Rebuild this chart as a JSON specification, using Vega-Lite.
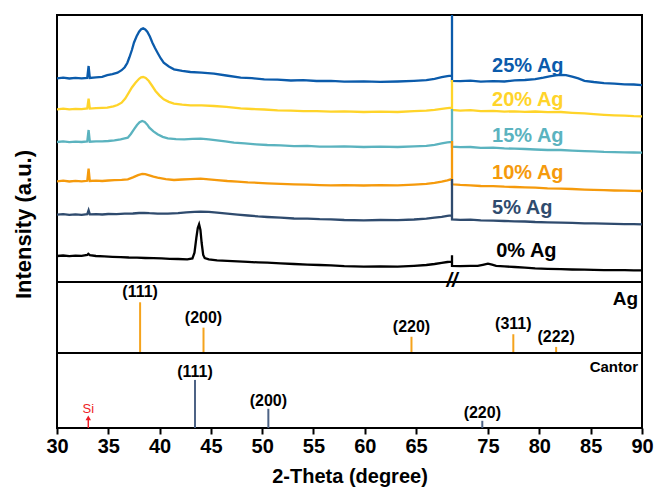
{
"$schema": "https://vega.github.io/schema/vega-lite/v6.json",
"padding": {"left": 11, "top": 14, "right": 5, "bottom": 2},
"background": "white",
"spacing": 0,
"bounds": "flush",
"config": {"view": {"stroke": "black", "strokeWidth": 2}, "font": "Liberation Sans", "concat": {"spacing": 0}},
"datasets": {
"xrd": [
{"s":"25% Ag","t":30,"i":203.7},{"s":"25% Ag","t":30.6,"i":204.3},{"s":"25% Ag","t":31.2,"i":203.5},{"s":"25% Ag","t":31.8,"i":204.2},{"s":"25% Ag","t":32.4,"i":203.6},{"s":"25% Ag","t":32.95,"i":204.1},{"s":"25% Ag","t":33.08,"i":216},{"s":"25% Ag","t":33.2,"i":204},{"s":"25% Ag","t":33.8,"i":204.6},{"s":"25% Ag","t":34.4,"i":205.2},{"s":"25% Ag","t":34.9,"i":206.8},{"s":"25% Ag","t":35.4,"i":207.9},{"s":"25% Ag","t":35.9,"i":209.3},{"s":"25% Ag","t":36.3,"i":211.8},{"s":"25% Ag","t":36.6,"i":214.8},{"s":"25% Ag","t":36.85,"i":219},{"s":"25% Ag","t":37.05,"i":224.5},{"s":"25% Ag","t":37.3,"i":232},{"s":"25% Ag","t":37.5,"i":239.3},{"s":"25% Ag","t":37.75,"i":245.5},{"s":"25% Ag","t":38.0,"i":250.3},{"s":"25% Ag","t":38.2,"i":252.8},{"s":"25% Ag","t":38.4,"i":253.7},{"s":"25% Ag","t":38.6,"i":252.6},{"s":"25% Ag","t":38.8,"i":250.3},{"s":"25% Ag","t":39.05,"i":245.5},{"s":"25% Ag","t":39.3,"i":239.3},{"s":"25% Ag","t":39.55,"i":234},{"s":"25% Ag","t":39.8,"i":229.3},{"s":"25% Ag","t":40.1,"i":223.8},{"s":"25% Ag","t":40.4,"i":219.3},{"s":"25% Ag","t":40.9,"i":215.5},{"s":"25% Ag","t":41.4,"i":212.7},{"s":"25% Ag","t":42.2,"i":211.2},{"s":"25% Ag","t":43.0,"i":210},{"s":"25% Ag","t":44.1,"i":209.4},{"s":"25% Ag","t":45.3,"i":208.3},{"s":"25% Ag","t":46.5,"i":206.5},{"s":"25% Ag","t":47.9,"i":204.3},{"s":"25% Ag","t":49.0,"i":203.8},{"s":"25% Ag","t":50.2,"i":202.6},{"s":"25% Ag","t":51.5,"i":202.4},{"s":"25% Ag","t":52.8,"i":201.5},{"s":"25% Ag","t":54.0,"i":201.8},{"s":"25% Ag","t":55.3,"i":201.0},{"s":"25% Ag","t":56.7,"i":201.2},{"s":"25% Ag","t":58.0,"i":200.4},{"s":"25% Ag","t":59.9,"i":200.6},{"s":"25% Ag","t":61.5,"i":200.1},{"s":"25% Ag","t":63.2,"i":200.5},{"s":"25% Ag","t":64.8,"i":201.2},{"s":"25% Ag","t":66.0,"i":201.9},{"s":"25% Ag","t":66.8,"i":203.2},{"s":"25% Ag","t":67.5,"i":204.8},{"s":"25% Ag","t":68.05,"i":205.8},{"s":"25% Ag","t":68.4,"i":206.3},{"s":"25% Ag","t":68.5,"i":206.1},{"s":"25% Ag","t":69.1,"i":400},{"s":"25% Ag","t":71.5,"i":201.2},{"s":"25% Ag","t":72.3,"i":200.8},{"s":"25% Ag","t":73.3,"i":201.3},{"s":"25% Ag","t":74.3,"i":200.4},{"s":"25% Ag","t":75.5,"i":200.9},{"s":"25% Ag","t":76.6,"i":200.5},{"s":"25% Ag","t":77.6,"i":201.6},{"s":"25% Ag","t":78.6,"i":202.0},{"s":"25% Ag","t":79.6,"i":202.8},{"s":"25% Ag","t":80.4,"i":204.3},{"s":"25% Ag","t":81.0,"i":205.6},{"s":"25% Ag","t":81.6,"i":206.6},{"s":"25% Ag","t":82.1,"i":207.2},{"s":"25% Ag","t":82.6,"i":206.8},{"s":"25% Ag","t":83.2,"i":205.4},{"s":"25% Ag","t":83.8,"i":203.6},{"s":"25% Ag","t":84.4,"i":201.2},{"s":"25% Ag","t":85.3,"i":200.0},{"s":"25% Ag","t":86.3,"i":198.9},{"s":"25% Ag","t":87.3,"i":198.4},{"s":"25% Ag","t":88.3,"i":197.6},{"s":"25% Ag","t":89.2,"i":197.5},{"s":"25% Ag","t":90,"i":196.9},
{"s":"20% Ag","t":30,"i":172.7},{"s":"20% Ag","t":30.6,"i":173.4},{"s":"20% Ag","t":31.2,"i":172.6},{"s":"20% Ag","t":31.8,"i":173.2},{"s":"20% Ag","t":32.4,"i":172.8},{"s":"20% Ag","t":32.95,"i":173.5},{"s":"20% Ag","t":33.08,"i":183.3},{"s":"20% Ag","t":33.2,"i":173.4},{"s":"20% Ag","t":33.8,"i":173.8},{"s":"20% Ag","t":34.4,"i":174.1},{"s":"20% Ag","t":34.9,"i":174.3},{"s":"20% Ag","t":35.5,"i":175.6},{"s":"20% Ag","t":35.9,"i":177},{"s":"20% Ag","t":36.3,"i":179.3},{"s":"20% Ag","t":36.65,"i":183.5},{"s":"20% Ag","t":37.0,"i":189.3},{"s":"20% Ag","t":37.3,"i":194.5},{"s":"20% Ag","t":37.65,"i":199.3},{"s":"20% Ag","t":38.0,"i":203.2},{"s":"20% Ag","t":38.2,"i":204.6},{"s":"20% Ag","t":38.4,"i":205},{"s":"20% Ag","t":38.65,"i":204},{"s":"20% Ag","t":38.95,"i":201},{"s":"20% Ag","t":39.25,"i":196.5},{"s":"20% Ag","t":39.6,"i":191},{"s":"20% Ag","t":40.0,"i":186.4},{"s":"20% Ag","t":40.4,"i":182.7},{"s":"20% Ag","t":40.9,"i":180.1},{"s":"20% Ag","t":41.4,"i":178.3},{"s":"20% Ag","t":42.2,"i":177.4},{"s":"20% Ag","t":43.0,"i":176.7},{"s":"20% Ag","t":44.1,"i":176.6},{"s":"20% Ag","t":45.3,"i":176},{"s":"20% Ag","t":46.5,"i":175.1},{"s":"20% Ag","t":47.9,"i":173.7},{"s":"20% Ag","t":49.0,"i":173.0},{"s":"20% Ag","t":50.2,"i":172.5},{"s":"20% Ag","t":51.5,"i":171.6},{"s":"20% Ag","t":52.8,"i":171.4},{"s":"20% Ag","t":54.0,"i":170.8},{"s":"20% Ag","t":55.3,"i":170.9},{"s":"20% Ag","t":56.7,"i":170.3},{"s":"20% Ag","t":58.0,"i":170.6},{"s":"20% Ag","t":59.9,"i":170.0},{"s":"20% Ag","t":61.5,"i":170.3},{"s":"20% Ag","t":63.2,"i":170.0},{"s":"20% Ag","t":64.8,"i":170.8},{"s":"20% Ag","t":66.0,"i":171.3},{"s":"20% Ag","t":66.8,"i":172.2},{"s":"20% Ag","t":67.5,"i":173.2},{"s":"20% Ag","t":68.05,"i":173.9},{"s":"20% Ag","t":68.5,"i":174.4},{"s":"20% Ag","t":69.1,"i":202},{"s":"20% Ag","t":71.5,"i":172},{"s":"20% Ag","t":72.3,"i":171.4},{"s":"20% Ag","t":73.3,"i":171.8},{"s":"20% Ag","t":74.3,"i":170.9},{"s":"20% Ag","t":75.5,"i":171.1},{"s":"20% Ag","t":76.6,"i":170.4},{"s":"20% Ag","t":77.6,"i":170.7},{"s":"20% Ag","t":78.6,"i":170.1},{"s":"20% Ag","t":79.6,"i":170.5},{"s":"20% Ag","t":80.8,"i":169.9},{"s":"20% Ag","t":82.1,"i":170.0},{"s":"20% Ag","t":83.2,"i":169.2},{"s":"20% Ag","t":84.4,"i":168.6},{"s":"20% Ag","t":85.3,"i":167.9},{"s":"20% Ag","t":86.3,"i":167.2},{"s":"20% Ag","t":87.3,"i":166.7},{"s":"20% Ag","t":88.3,"i":166.4},{"s":"20% Ag","t":89.2,"i":165.9},{"s":"20% Ag","t":90,"i":165.7},
{"s":"15% Ag","t":30,"i":140.0},{"s":"15% Ag","t":30.6,"i":140.6},{"s":"15% Ag","t":31.2,"i":139.8},{"s":"15% Ag","t":31.8,"i":140.4},{"s":"15% Ag","t":32.4,"i":140.0},{"s":"15% Ag","t":32.95,"i":140.5},{"s":"15% Ag","t":33.08,"i":152},{"s":"15% Ag","t":33.2,"i":140.3},{"s":"15% Ag","t":33.8,"i":140.7},{"s":"15% Ag","t":34.4,"i":140.6},{"s":"15% Ag","t":35.0,"i":141.0},{"s":"15% Ag","t":35.6,"i":141.6},{"s":"15% Ag","t":36.2,"i":142.6},{"s":"15% Ag","t":36.6,"i":143.6},{"s":"15% Ag","t":36.9,"i":144.3},{"s":"15% Ag","t":37.2,"i":148},{"s":"15% Ag","t":37.5,"i":152.7},{"s":"15% Ag","t":37.8,"i":157},{"s":"15% Ag","t":38.05,"i":159.8},{"s":"15% Ag","t":38.3,"i":161},{"s":"15% Ag","t":38.55,"i":160},{"s":"15% Ag","t":38.8,"i":157.3},{"s":"15% Ag","t":39.0,"i":154.3},{"s":"15% Ag","t":39.4,"i":150.6},{"s":"15% Ag","t":39.8,"i":147.7},{"s":"15% Ag","t":40.3,"i":145.2},{"s":"15% Ag","t":40.8,"i":143.7},{"s":"15% Ag","t":41.6,"i":142.9},{"s":"15% Ag","t":42.4,"i":142.7},{"s":"15% Ag","t":43.2,"i":143.2},{"s":"15% Ag","t":44.0,"i":143.3},{"s":"15% Ag","t":44.8,"i":142.6},{"s":"15% Ag","t":45.6,"i":141.7},{"s":"15% Ag","t":46.4,"i":140.6},{"s":"15% Ag","t":47.25,"i":139.3},{"s":"15% Ag","t":48.3,"i":138.6},{"s":"15% Ag","t":49.4,"i":137.7},{"s":"15% Ag","t":50.5,"i":137.0},{"s":"15% Ag","t":51.8,"i":136.6},{"s":"15% Ag","t":53.1,"i":135.9},{"s":"15% Ag","t":54.4,"i":136.1},{"s":"15% Ag","t":55.6,"i":135.4},{"s":"15% Ag","t":56.7,"i":135.3},{"s":"15% Ag","t":58.0,"i":135.6},{"s":"15% Ag","t":59.9,"i":135.0},{"s":"15% Ag","t":61.5,"i":135.3},{"s":"15% Ag","t":63.2,"i":135.0},{"s":"15% Ag","t":64.8,"i":135.7},{"s":"15% Ag","t":66.0,"i":136.2},{"s":"15% Ag","t":66.8,"i":137.2},{"s":"15% Ag","t":67.5,"i":138.6},{"s":"15% Ag","t":68.05,"i":139.6},{"s":"15% Ag","t":68.5,"i":140.0},{"s":"15% Ag","t":69.1,"i":173},{"s":"15% Ag","t":71.5,"i":135.3},{"s":"15% Ag","t":72.3,"i":134.8},{"s":"15% Ag","t":73.3,"i":135.0},{"s":"15% Ag","t":74.3,"i":134.2},{"s":"15% Ag","t":75.5,"i":134.3},{"s":"15% Ag","t":76.6,"i":133.6},{"s":"15% Ag","t":77.6,"i":133.3},{"s":"15% Ag","t":78.6,"i":133.0},{"s":"15% Ag","t":79.6,"i":132.5},{"s":"15% Ag","t":80.8,"i":132.0},{"s":"15% Ag","t":82.1,"i":132.0},{"s":"15% Ag","t":83.2,"i":131.4},{"s":"15% Ag","t":84.4,"i":130.9},{"s":"15% Ag","t":85.3,"i":130.6},{"s":"15% Ag","t":86.3,"i":130.1},{"s":"15% Ag","t":87.3,"i":129.9},{"s":"15% Ag","t":88.3,"i":129.6},{"s":"15% Ag","t":89.2,"i":129.5},{"s":"15% Ag","t":90,"i":129.3},
{"s":"10% Ag","t":30,"i":100.7},{"s":"10% Ag","t":30.6,"i":101.3},{"s":"10% Ag","t":31.2,"i":100.5},{"s":"10% Ag","t":31.8,"i":101.1},{"s":"10% Ag","t":32.4,"i":100.6},{"s":"10% Ag","t":32.95,"i":101.2},{"s":"10% Ag","t":33.08,"i":113.3},{"s":"10% Ag","t":33.2,"i":101.0},{"s":"10% Ag","t":33.8,"i":101.4},{"s":"10% Ag","t":34.4,"i":101.0},{"s":"10% Ag","t":35.0,"i":101.5},{"s":"10% Ag","t":35.6,"i":101.9},{"s":"10% Ag","t":36.3,"i":102.2},{"s":"10% Ag","t":36.9,"i":102.7},{"s":"10% Ag","t":37.4,"i":104.6},{"s":"10% Ag","t":37.9,"i":106.9},{"s":"10% Ag","t":38.3,"i":108.0},{"s":"10% Ag","t":38.6,"i":107.8},{"s":"10% Ag","t":39.0,"i":106.6},{"s":"10% Ag","t":39.4,"i":105.3},{"s":"10% Ag","t":39.8,"i":104.3},{"s":"10% Ag","t":40.6,"i":102.8},{"s":"10% Ag","t":41.4,"i":102.0},{"s":"10% Ag","t":42.2,"i":102.5},{"s":"10% Ag","t":43.0,"i":102.9},{"s":"10% Ag","t":44.0,"i":103.3},{"s":"10% Ag","t":44.8,"i":102.7},{"s":"10% Ag","t":45.6,"i":101.9},{"s":"10% Ag","t":46.6,"i":101.0},{"s":"10% Ag","t":47.6,"i":100.4},{"s":"10% Ag","t":48.6,"i":99.6},{"s":"10% Ag","t":49.6,"i":99.2},{"s":"10% Ag","t":50.5,"i":98.7},{"s":"10% Ag","t":51.8,"i":98.1},{"s":"10% Ag","t":53.1,"i":97.6},{"s":"10% Ag","t":54.4,"i":97.3},{"s":"10% Ag","t":55.6,"i":96.9},{"s":"10% Ag","t":56.7,"i":96.7},{"s":"10% Ag","t":58.0,"i":96.9},{"s":"10% Ag","t":59.9,"i":96.5},{"s":"10% Ag","t":61.5,"i":96.8},{"s":"10% Ag","t":63.2,"i":96.7},{"s":"10% Ag","t":64.8,"i":97.4},{"s":"10% Ag","t":66.0,"i":98.1},{"s":"10% Ag","t":66.8,"i":99.2},{"s":"10% Ag","t":67.5,"i":100.4},{"s":"10% Ag","t":68.05,"i":101.7},{"s":"10% Ag","t":68.4,"i":102.7},{"s":"10% Ag","t":68.5,"i":102.4},{"s":"10% Ag","t":69.1,"i":141},{"s":"10% Ag","t":71.5,"i":97.7},{"s":"10% Ag","t":72.3,"i":97.1},{"s":"10% Ag","t":73.3,"i":96.7},{"s":"10% Ag","t":74.3,"i":96.0},{"s":"10% Ag","t":75.5,"i":95.9},{"s":"10% Ag","t":76.6,"i":95.3},{"s":"10% Ag","t":77.6,"i":95.0},{"s":"10% Ag","t":78.6,"i":94.6},{"s":"10% Ag","t":79.6,"i":94.3},{"s":"10% Ag","t":80.8,"i":93.6},{"s":"10% Ag","t":82.1,"i":93.3},{"s":"10% Ag","t":83.2,"i":93.0},{"s":"10% Ag","t":84.4,"i":92.4},{"s":"10% Ag","t":85.3,"i":92.1},{"s":"10% Ag","t":86.3,"i":91.8},{"s":"10% Ag","t":87.3,"i":91.5},{"s":"10% Ag","t":88.3,"i":91.3},{"s":"10% Ag","t":89.2,"i":91.1},{"s":"10% Ag","t":90,"i":91.0},
{"s":"5% Ag","t":30,"i":67.3},{"s":"5% Ag","t":30.6,"i":67.9},{"s":"5% Ag","t":31.2,"i":67.1},{"s":"5% Ag","t":31.8,"i":67.7},{"s":"5% Ag","t":32.4,"i":67.2},{"s":"5% Ag","t":32.95,"i":67.8},{"s":"5% Ag","t":33.08,"i":71.7},{"s":"5% Ag","t":33.2,"i":67.6},{"s":"5% Ag","t":33.8,"i":67.9},{"s":"5% Ag","t":34.4,"i":67.5},{"s":"5% Ag","t":35.0,"i":68.0},{"s":"5% Ag","t":35.8,"i":67.8},{"s":"5% Ag","t":36.6,"i":68.3},{"s":"5% Ag","t":37.4,"i":68.5},{"s":"5% Ag","t":38.0,"i":69.0},{"s":"5% Ag","t":38.5,"i":69.2},{"s":"5% Ag","t":39.0,"i":68.8},{"s":"5% Ag","t":39.8,"i":68.4},{"s":"5% Ag","t":40.8,"i":68.3},{"s":"5% Ag","t":41.8,"i":68.9},{"s":"5% Ag","t":42.6,"i":69.7},{"s":"5% Ag","t":43.4,"i":70.2},{"s":"5% Ag","t":44.0,"i":70.4},{"s":"5% Ag","t":44.8,"i":70.1},{"s":"5% Ag","t":45.6,"i":69.3},{"s":"5% Ag","t":46.6,"i":68.3},{"s":"5% Ag","t":47.6,"i":67.4},{"s":"5% Ag","t":48.6,"i":66.5},{"s":"5% Ag","t":49.6,"i":65.6},{"s":"5% Ag","t":50.5,"i":65.0},{"s":"5% Ag","t":51.8,"i":64.3},{"s":"5% Ag","t":53.1,"i":63.5},{"s":"5% Ag","t":54.4,"i":63.3},{"s":"5% Ag","t":55.6,"i":62.8},{"s":"5% Ag","t":56.7,"i":62.7},{"s":"5% Ag","t":58.0,"i":62.0},{"s":"5% Ag","t":59.9,"i":61.7},{"s":"5% Ag","t":61.5,"i":62.0},{"s":"5% Ag","t":63.2,"i":61.8},{"s":"5% Ag","t":64.8,"i":62.5},{"s":"5% Ag","t":66.0,"i":63.4},{"s":"5% Ag","t":66.8,"i":64.3},{"s":"5% Ag","t":67.5,"i":65.2},{"s":"5% Ag","t":68.05,"i":66.2},{"s":"5% Ag","t":68.4,"i":66.7},{"s":"5% Ag","t":68.5,"i":66.5},{"s":"5% Ag","t":69.1,"i":103},{"s":"5% Ag","t":71.5,"i":62.7},{"s":"5% Ag","t":72.3,"i":62.2},{"s":"5% Ag","t":73.3,"i":62.4},{"s":"5% Ag","t":74.3,"i":61.6},{"s":"5% Ag","t":75.5,"i":61.4},{"s":"5% Ag","t":76.6,"i":61.0},{"s":"5% Ag","t":77.6,"i":60.6},{"s":"5% Ag","t":78.6,"i":60.5},{"s":"5% Ag","t":79.6,"i":60.0},{"s":"5% Ag","t":80.8,"i":59.7},{"s":"5% Ag","t":82.1,"i":59.3},{"s":"5% Ag","t":83.2,"i":59.2},{"s":"5% Ag","t":84.4,"i":58.7},{"s":"5% Ag","t":85.3,"i":58.6},{"s":"5% Ag","t":86.3,"i":58.3},{"s":"5% Ag","t":87.3,"i":58.1},{"s":"5% Ag","t":88.3,"i":57.9},{"s":"5% Ag","t":89.2,"i":57.8},{"s":"5% Ag","t":90,"i":57.7},
{"s":"0% Ag","t":30,"i":26.0},{"s":"0% Ag","t":30.6,"i":26.5},{"s":"0% Ag","t":31.2,"i":25.9},{"s":"0% Ag","t":31.8,"i":26.4},{"s":"0% Ag","t":32.4,"i":26.1},{"s":"0% Ag","t":32.95,"i":27.0},{"s":"0% Ag","t":33.05,"i":28.2},{"s":"0% Ag","t":33.2,"i":26.8},{"s":"0% Ag","t":33.8,"i":26.0},{"s":"0% Ag","t":34.6,"i":25.6},{"s":"0% Ag","t":35.4,"i":25.2},{"s":"0% Ag","t":36.2,"i":24.9},{"s":"0% Ag","t":37.0,"i":24.5},{"s":"0% Ag","t":37.8,"i":24.3},{"s":"0% Ag","t":38.6,"i":24.0},{"s":"0% Ag","t":39.4,"i":23.8},{"s":"0% Ag","t":40.2,"i":23.6},{"s":"0% Ag","t":41.0,"i":23.2},{"s":"0% Ag","t":41.8,"i":23.0},{"s":"0% Ag","t":42.7,"i":22.7},{"s":"0% Ag","t":43.2,"i":23.5},{"s":"0% Ag","t":43.4,"i":29.3},{"s":"0% Ag","t":43.58,"i":44},{"s":"0% Ag","t":43.72,"i":54},{"s":"0% Ag","t":43.85,"i":57.7},{"s":"0% Ag","t":43.98,"i":52},{"s":"0% Ag","t":44.1,"i":39},{"s":"0% Ag","t":44.25,"i":27},{"s":"0% Ag","t":44.4,"i":24.0},{"s":"0% Ag","t":44.8,"i":22.6},{"s":"0% Ag","t":45.6,"i":21.7},{"s":"0% Ag","t":46.6,"i":21.2},{"s":"0% Ag","t":47.6,"i":20.6},{"s":"0% Ag","t":48.6,"i":20.1},{"s":"0% Ag","t":49.6,"i":19.6},{"s":"0% Ag","t":50.5,"i":19.3},{"s":"0% Ag","t":51.8,"i":18.6},{"s":"0% Ag","t":53.1,"i":18.0},{"s":"0% Ag","t":54.4,"i":17.4},{"s":"0% Ag","t":55.6,"i":17.0},{"s":"0% Ag","t":56.7,"i":16.7},{"s":"0% Ag","t":58.0,"i":15.9},{"s":"0% Ag","t":59.9,"i":15.3},{"s":"0% Ag","t":61.5,"i":15.5},{"s":"0% Ag","t":63.2,"i":15.4},{"s":"0% Ag","t":64.8,"i":16.2},{"s":"0% Ag","t":66.0,"i":17.0},{"s":"0% Ag","t":66.8,"i":18.0},{"s":"0% Ag","t":67.5,"i":19.1},{"s":"0% Ag","t":68.05,"i":20.0},{"s":"0% Ag","t":68.4,"i":20.3},{"s":"0% Ag","t":68.5,"i":20.3},{"s":"0% Ag","t":69.1,"i":26.7},{"s":"0% Ag","t":71.5,"i":16.0},{"s":"0% Ag","t":72.3,"i":15.8},{"s":"0% Ag","t":73.3,"i":16.2},{"s":"0% Ag","t":74.0,"i":16.1},{"s":"0% Ag","t":74.5,"i":17.2},{"s":"0% Ag","t":75.0,"i":18.3},{"s":"0% Ag","t":75.4,"i":17.4},{"s":"0% Ag","t":75.8,"i":16.2},{"s":"0% Ag","t":76.6,"i":15.6},{"s":"0% Ag","t":77.6,"i":15.0},{"s":"0% Ag","t":78.6,"i":14.3},{"s":"0% Ag","t":79.6,"i":13.6},{"s":"0% Ag","t":80.8,"i":13.2},{"s":"0% Ag","t":82.1,"i":12.9},{"s":"0% Ag","t":83.2,"i":12.5},{"s":"0% Ag","t":84.4,"i":12.3},{"s":"0% Ag","t":85.3,"i":12.1},{"s":"0% Ag","t":86.3,"i":11.9},{"s":"0% Ag","t":87.3,"i":11.8},{"s":"0% Ag","t":88.3,"i":11.9},{"s":"0% Ag","t":89.2,"i":11.6},{"s":"0% Ag","t":90,"i":11.7}
],
"labels": [
{"s":"25% Ag","t":75.4,"i":216},{"s":"20% Ag","t":75.4,"i":181.7},{"s":"15% Ag","t":75.4,"i":146},{"s":"10% Ag","t":75.4,"i":109.3},{"s":"5% Ag","t":75.4,"i":74.3},{"s":"0% Ag","t":75.8,"i":31}
],
"ag": [
{"hkl":"(111)","t":38.1,"rel":100},{"hkl":"(200)","t":44.28,"rel":50},{"hkl":"(220)","t":64.55,"rel":32},{"hkl":"(311)","t":77.47,"rel":37},{"hkl":"(222)","t":81.64,"rel":12}
],
"cantor": [
{"hkl":"(111)","t":43.45,"rel":100},{"hkl":"(200)","t":50.6,"rel":40},{"hkl":"(220)","t":74.45,"rel":15}
]
},
"vconcat": [
{
"width": 585, "height": 267,
"layer": [
{"data": {"name": "xrd"}, "mark": {"type": "line", "clip": true, "strokeWidth": 2.3},
 "encoding": {
  "x": {"field": "t", "type": "quantitative", "scale": {"domain": [30, 68.5, 71.5, 90], "range": [0, 395, 395, 585], "zero": false, "nice": false}, "axis": null},
  "y": {"field": "i", "type": "quantitative", "scale": {"domain": [0, 267], "nice": false, "zero": false},
        "axis": {"title": "Intensity (a.u.)", "labels": false, "ticks": false, "domain": false, "grid": false, "titleFontSize": 22, "titleFontWeight": "bold", "titleColor": "black", "titleX": -34, "titleY": 209, "titleAngle": -90, "titleAlign": "center", "titleBaseline": "middle"}},
  "color": {"field": "s", "type": "nominal", "scale": {"domain": ["0% Ag", "5% Ag", "10% Ag", "15% Ag", "20% Ag", "25% Ag"], "range": ["#000000", "#2f4b6e", "#f59a0c", "#5bb3bf", "#ffd42a", "#0b5bab"]}, "legend": null}
 }},
{"data": {"name": "labels"}, "mark": {"type": "text", "align": "left", "baseline": "middle", "fontSize": 20, "fontWeight": "bold"},
 "encoding": {
  "x": {"field": "t", "type": "quantitative", "axis": null},
  "y": {"field": "i", "type": "quantitative"},
  "text": {"field": "s"},
  "color": {"field": "s", "type": "nominal", "legend": null}
 }},
{"data": {"values": [{"t": 69.5, "i": 1.5, "mark": "//"}]}, "mark": {"type": "text", "baseline": "middle", "align": "center", "fontSize": 20, "fontWeight": "bold", "fontStyle": "italic", "color": "black"},
 "encoding": {
  "x": {"field": "t", "type": "quantitative", "axis": null},
  "y": {"field": "i", "type": "quantitative"},
  "text": {"field": "mark"}
 }}
]
},
{
"width": 585, "height": 71,
"layer": [
{"data": {"name": "ag"}, "mark": {"type": "rule", "color": "#f5a31c", "strokeWidth": 2},
 "encoding": {
  "x": {"field": "t", "type": "quantitative", "scale": {"domain": [30, 68.5, 71.5, 90], "range": [0, 395, 395, 585], "zero": false, "nice": false}, "axis": null},
  "y": {"field": "rel", "type": "quantitative", "scale": {"domain": [0, 140], "nice": false, "zero": false}, "axis": null},
  "y2": {"datum": 0}
 }},
{"data": {"name": "ag"}, "mark": {"type": "text", "baseline": "alphabetic", "align": "center", "dy": -5, "fontSize": 16, "fontWeight": "bold", "color": "black"},
 "encoding": {
  "x": {"field": "t", "type": "quantitative", "axis": null},
  "y": {"field": "rel", "type": "quantitative", "axis": null},
  "text": {"field": "hkl"}
 }},
{"data": {"values": [{"t": 90, "rel": 107, "name": "Ag"}]}, "mark": {"type": "text", "baseline": "middle", "align": "right", "dx": -4, "fontSize": 19, "fontWeight": "bold", "color": "black"},
 "encoding": {
  "x": {"field": "t", "type": "quantitative", "axis": null},
  "y": {"field": "rel", "type": "quantitative", "axis": null},
  "text": {"field": "name"}
 }}
]
},
{
"width": 585, "height": 75,
"layer": [
{"data": {"name": "cantor"}, "mark": {"type": "rule", "color": "#4d6385", "strokeWidth": 2},
 "encoding": {
  "x": {"field": "t", "type": "quantitative", "scale": {"domain": [30, 68.5, 71.5, 90], "range": [0, 395, 395, 585], "zero": false, "nice": false},
        "axis": {"values": [30, 35, 40, 45, 50, 55, 60, 65, 75, 80, 85, 90], "title": "2-Theta (degree)", "grid": false, "domain": false, "tickColor": "black", "tickWidth": 2, "tickSize": 6, "labelFontSize": 20, "labelFontWeight": "bold", "labelColor": "black", "labelPadding": 2, "labelFlush": false, "labelOverlap": false, "labelBound": false, "titleFontSize": 20, "titleFontWeight": "bold", "titleColor": "black", "titlePadding": 10}},
  "y": {"field": "rel", "type": "quantitative", "scale": {"domain": [0, 156], "nice": false, "zero": false}, "axis": null},
  "y2": {"datum": 0}
 }},
{"data": {"name": "cantor"}, "mark": {"type": "text", "baseline": "alphabetic", "align": "center", "dy": -3, "fontSize": 16, "fontWeight": "bold", "color": "black"},
 "encoding": {
  "x": {"field": "t", "type": "quantitative"},
  "y": {"field": "rel", "type": "quantitative", "axis": null},
  "text": {"field": "hkl"}
 }},
{"data": {"values": [{"t": 90, "rel": 127, "name": "Cantor"}]}, "mark": {"type": "text", "baseline": "middle", "align": "right", "dx": -4, "fontSize": 15, "fontWeight": "bold", "color": "black"},
 "encoding": {
  "x": {"field": "t", "type": "quantitative"},
  "y": {"field": "rel", "type": "quantitative", "axis": null},
  "text": {"field": "name"}
 }},
{"data": {"values": [{"t": 33.05, "rel": 17, "tip": 21, "lab": 31, "name": "Si"}]},
 "layer": [
  {"mark": {"type": "rule", "color": "#ee1c25", "strokeWidth": 1.5},
   "encoding": {"x": {"field": "t", "type": "quantitative"}, "y": {"field": "rel", "type": "quantitative", "axis": null}, "y2": {"datum": 0}}},
  {"mark": {"type": "point", "shape": "triangle-up", "filled": true, "size": 30, "color": "#ee1c25", "opacity": 1},
   "encoding": {"x": {"field": "t", "type": "quantitative"}, "y": {"field": "tip", "type": "quantitative", "axis": null}}},
  {"mark": {"type": "text", "baseline": "alphabetic", "align": "center", "fontSize": 13, "color": "#ee1c25"},
   "encoding": {"x": {"field": "t", "type": "quantitative"}, "y": {"field": "lab", "type": "quantitative", "axis": null}, "text": {"field": "name"}}}
 ]}
]
}
]
}
